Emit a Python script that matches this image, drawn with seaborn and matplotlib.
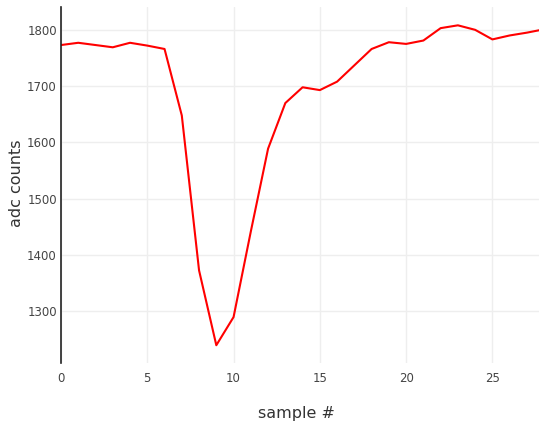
import matplotlib

matplotlib.use('Agg')
import matplotlib.pyplot as plt
import seaborn as sns
import pandas as pd

# 读取自图像的采样数据
sample_idx = list(range(29))
adc_counts = [1773, 1777, 1773, 1769, 1777, 1772, 1766, 1648, 1373, 1240,
              1290, 1442, 1589, 1670, 1698, 1693, 1708, 1737, 1766, 1778,
              1775, 1781, 1803, 1808, 1800, 1783, 1790, 1795, 1801]
x_ticks = [0, 5, 10, 15, 20, 25]
y_ticks = [1300, 1400, 1500, 1600, 1700, 1800]

df = pd.DataFrame({'sample': sample_idx, 'adc': adc_counts})

sns.set_style('whitegrid')
plt.rcParams['font.family'] = ['DejaVu Sans']

fig = plt.figure(figsize=(5.39, 4.26), dpi=100)
ax = fig.add_axes([61 / 539, 63.3 / 426, 478 / 539, 355.4 / 426])

sns.lineplot(data=df, x='sample', y='adc', color='red', linewidth=1.5, ax=ax)

ax.set_xlim(0, 27.7)
ax.set_ylim(1209, 1840)
ax.set_xticks(x_ticks)
ax.set_yticks(y_ticks)
ax.grid(True, color='#eeeeee', linewidth=1)
ax.tick_params(axis='both', length=0, labelsize=8.5, labelcolor='#444444')
ax.tick_params(axis='x', pad=7)
ax.tick_params(axis='y', pad=3)

for side in ['top', 'right', 'bottom']:
    ax.spines[side].set_visible(False)
ax.spines['left'].set_color('#222222')
ax.spines['left'].set_linewidth(1.2)

ax.set_xlabel('sample #', fontsize=11.5, color='#333333')
ax.set_ylabel('adc counts', fontsize=11.5, color='#333333')
ax.xaxis.set_label_coords(0.493, -0.144)
ax.yaxis.set_label_coords(-0.093, 0.506)
ax.xaxis.label.set_va('center')
ax.yaxis.label.set_va('center')

plt.savefig('out.png', dpi=100)
plt.close()
